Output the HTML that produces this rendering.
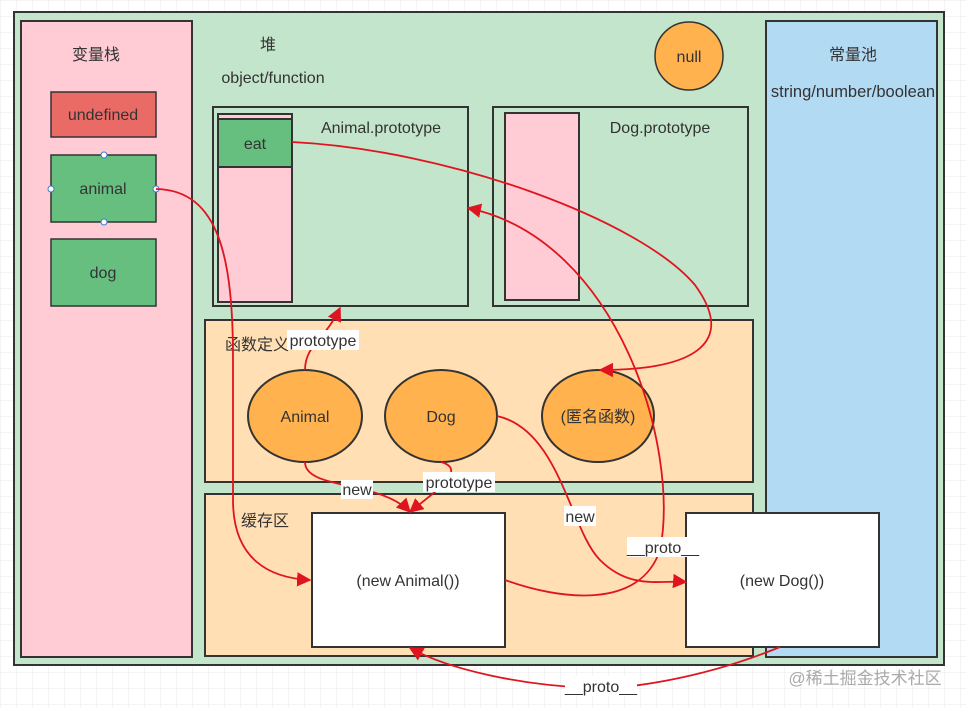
<!DOCTYPE html>
<html><head><meta charset="utf-8"><style>
html,body{margin:0;padding:0;background:#fff}
svg text{font-family:"Liberation Sans","Noto Sans CJK SC",sans-serif;font-size:16px;fill:#333}
</style></head><body>
<svg width="966" height="708" viewBox="0 0 966 708" xmlns="http://www.w3.org/2000/svg">
<defs>
<pattern id="g" width="16" height="16" patternUnits="userSpaceOnUse"><path d="M16 0H0V16" fill="none" stroke="#e8e8e8" stroke-width="1"/></pattern>
<marker id="a" viewBox="0 0 10 10" refX="9" refY="5" markerWidth="8" markerHeight="8" orient="auto"><path d="M0,0 L10,5 L0,10 z" fill="#e0141e"/></marker>
</defs>
<rect width="966" height="708" fill="url(#g)"/>
<rect x="14" y="12" width="930" height="653" fill="#c3e5cb" stroke="#333" stroke-width="2"/>
<rect x="21" y="21" width="171" height="636" fill="#ffccd5" stroke="#333" stroke-width="2"/>
<rect x="766" y="21" width="171" height="636" fill="#b3daf3" stroke="#333" stroke-width="2"/>
<text x="96" y="60" text-anchor="middle">变量栈</text>
<text x="853" y="60" text-anchor="middle">常量池</text>
<text x="853" y="97" text-anchor="middle" style="font-size:16.5px">string/number/boolean</text>
<text x="268" y="50" text-anchor="middle">堆</text>
<text x="273" y="83" text-anchor="middle">object/function</text>
<rect x="51" y="92" width="105" height="45" fill="#ea6b66" stroke="#333" stroke-width="1.5"/>
<text x="103" y="120" text-anchor="middle">undefined</text>
<rect x="51" y="155" width="105" height="67" fill="#67bf7f" stroke="#333" stroke-width="1.5"/>
<text x="103" y="194" text-anchor="middle">animal</text>
<g fill="#fff" stroke="#3a7bd5"><circle cx="104" cy="155" r="3"/><circle cx="104" cy="222" r="3"/><circle cx="51" cy="189" r="3"/><circle cx="156" cy="189" r="3"/></g>
<rect x="51" y="239" width="105" height="67" fill="#67bf7f" stroke="#333" stroke-width="1.5"/>
<text x="103" y="278" text-anchor="middle">dog</text>
<circle cx="689" cy="56" r="34" fill="#ffb24e" stroke="#333" stroke-width="1.5"/>
<text x="689" y="62" text-anchor="middle">null</text>
<rect x="213" y="107" width="255" height="199" fill="#c3e5cb" stroke="#333" stroke-width="2"/>
<rect x="218" y="114" width="74" height="188" fill="#ffccd5" stroke="#333" stroke-width="2"/>
<rect x="218" y="119" width="74" height="48" fill="#67bf7f" stroke="#333" stroke-width="2"/>
<text x="255" y="149" text-anchor="middle">eat</text>
<text x="381" y="133" text-anchor="middle">Animal.prototype</text>
<rect x="493" y="107" width="255" height="199" fill="#c3e5cb" stroke="#333" stroke-width="2"/>
<rect x="505" y="113" width="74" height="187" fill="#ffccd5" stroke="#333" stroke-width="2"/>
<text x="660" y="133" text-anchor="middle">Dog.prototype</text>
<rect x="205" y="320" width="548" height="162" fill="#ffdfb3" stroke="#333" stroke-width="2"/>
<text x="225" y="350">函数定义</text>
<ellipse cx="305" cy="416" rx="57" ry="46" fill="#ffb24e" stroke="#333" stroke-width="2"/>
<text x="305" y="422" text-anchor="middle">Animal</text>
<ellipse cx="441" cy="416" rx="56" ry="46" fill="#ffb24e" stroke="#333" stroke-width="2"/>
<text x="441" y="422" text-anchor="middle">Dog</text>
<ellipse cx="598" cy="416" rx="56" ry="46" fill="#ffb24e" stroke="#333" stroke-width="2"/>
<text x="598" y="422" text-anchor="middle">(匿名函数)</text>
<rect x="205" y="494" width="548" height="162" fill="#ffdfb3" stroke="#333" stroke-width="2"/>
<text x="241" y="526">缓存区</text>
<rect x="312" y="513" width="193" height="134" fill="#fff" stroke="#333" stroke-width="2"/>
<text x="408" y="586" text-anchor="middle">(new Animal())</text>
<rect x="686" y="513" width="193" height="134" fill="#fff" stroke="#333" stroke-width="2"/>
<text x="782" y="586" text-anchor="middle">(new Dog())</text>
<g fill="none" stroke="#e0141e" stroke-width="1.8" marker-end="url(#a)">
<path d="M156,189 C220,190 233,260 233,360 L233,500 C233,560 270,578 310,580"/>
<path d="M292,142 C450,150 640,220 695,285 C735,340 700,370 600,370"/>
<path d="M305,370 C305,345 325,340 340,308"/>
<path d="M305,462 C305,490 380,480 410,512"/>
<path d="M441,462 C470,470 430,495 410,512"/>
<path d="M497,416 C560,430 570,530 600,560 C630,590 660,580 686,582"/>
<path d="M505,580 C560,600 640,610 660,550 C680,450 620,240 468,208"/>
<path d="M780,647 C700,680 620,690 590,688 C520,685 450,670 410,648"/>
</g>
<g>
<rect x="287" y="330" width="72" height="20" fill="#fff"/><text x="323" y="346" text-anchor="middle">prototype</text>
<rect x="341" y="480" width="32" height="19" fill="#fff"/><text x="357" y="495" text-anchor="middle">new</text>
<rect x="423" y="472" width="72" height="20" fill="#fff"/><text x="459" y="488" text-anchor="middle">prototype</text>
<rect x="564" y="506" width="32" height="20" fill="#fff"/><text x="580" y="522" text-anchor="middle">new</text>
<rect x="627" y="537" width="72" height="20" fill="#fff"/><text x="663" y="553" text-anchor="middle">__proto__</text>
<rect x="565" y="676" width="72" height="20" fill="#fff"/><text x="601" y="692" text-anchor="middle">__proto__</text>
</g>
<text x="865" y="684" text-anchor="middle" style="fill:#aaa;font-size:17px">@稀土掘金技术社区</text>
</svg>
</body></html>
